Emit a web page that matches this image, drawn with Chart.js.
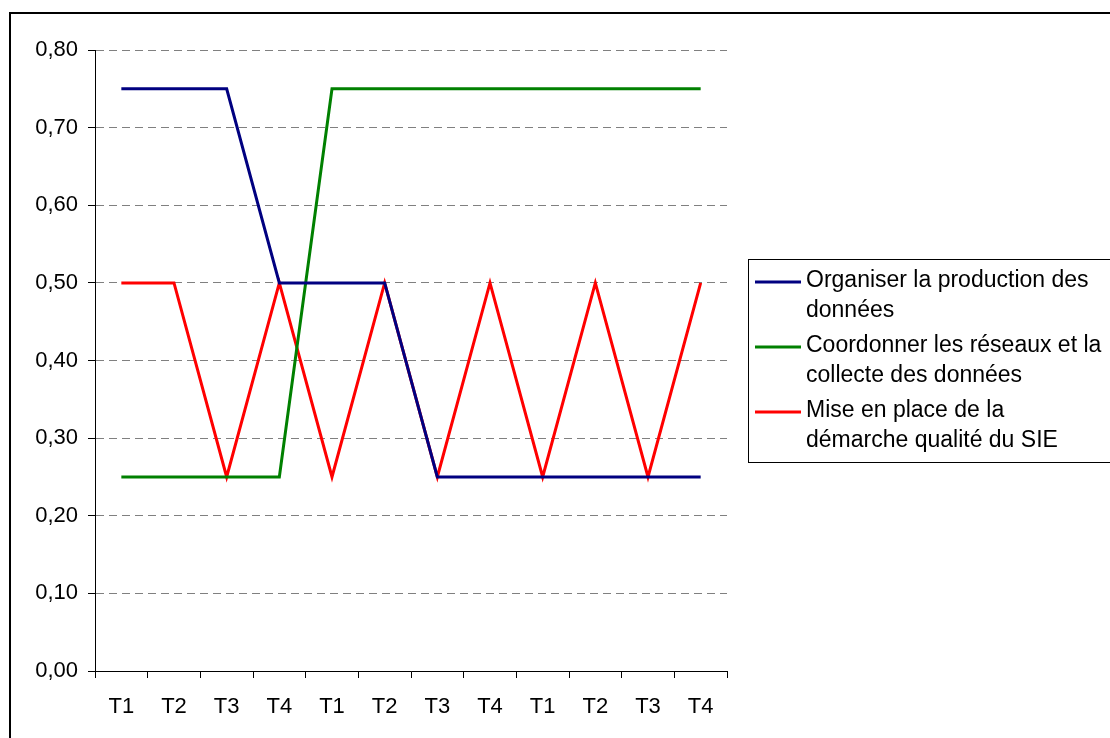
<!DOCTYPE html>
<html>
<head>
<meta charset="utf-8">
<script src="https://cdn.jsdelivr.net/npm/chart.js@4.4.1/dist/chart.umd.min.js"></script>
<style>
  html, body { margin: 0; padding: 0; background: #fff; }
  #wrap { position: relative; width: 1110px; height: 738px; }
</style>
</head>
<body>
<div id="wrap"><canvas id="chart"></canvas></div>
<script>
// quarters, three years in a row
const quarters = ['T1', 'T2', 'T3', 'T4', 'T1', 'T2', 'T3', 'T4', 'T1', 'T2', 'T3', 'T4'];

const organiser = [0.75, 0.75, 0.75, 0.50, 0.50, 0.50, 0.25, 0.25, 0.25, 0.25, 0.25, 0.25];
const coordonner = [0.25, 0.25, 0.25, 0.25, 0.75, 0.75, 0.75, 0.75, 0.75, 0.75, 0.75, 0.75];
const qualite = [0.50, 0.50, 0.25, 0.50, 0.25, 0.50, 0.25, 0.50, 0.25, 0.50, 0.25, 0.50];

const seriesNames = [
  'Organiser la production des\ndonnées',
  'Coordonner les réseaux et la\ncollecte des données',
  'Mise en place de la\ndémarche qualité du SIE'
];
const seriesColors = ['#000080', '#008000', '#ff0000'];

const FONT = '"Liberation Sans", Arial, sans-serif';
const AXIS_FS = 22;
const LEGEND_FS = 23;

// outer frame + legend box drawn on the canvas
const framePlugin = {
  id: 'frame',
  afterDraw(chart) {
    const ctx = chart.ctx;
    ctx.save();
    ctx.strokeStyle = '#000';
    ctx.lineWidth = 2;
    ctx.strokeRect(10, 13, 1120, 740);

    // legend
    ctx.lineWidth = 1;
    ctx.strokeRect(748.5, 259.5, 380, 203);
    ctx.font = LEGEND_FS + 'px ' + FONT;
    ctx.textBaseline = 'middle';
    ctx.textAlign = 'left';
    chart.data.datasets.forEach((ds, i) => {
      const y = 282 + i * 65;
      ctx.strokeStyle = ds.borderColor;
      ctx.lineWidth = 3;
      ctx.beginPath();
      ctx.moveTo(755, y);
      ctx.lineTo(801, y);
      ctx.stroke();
      ctx.fillStyle = '#000';
      ds.label.split('\n').forEach((line, j) => {
        ctx.fillText(line, 806, y - 1 + j * 30);
      });
    });
    ctx.restore();
  }
};

new Chart(document.getElementById('chart'), {
  type: 'line',
  data: {
    labels: quarters,
    datasets: [organiser, coordonner, qualite].map((d, i) => ({
      label: seriesNames[i],
      data: d,
      borderColor: seriesColors[i],
      backgroundColor: seriesColors[i],
      borderWidth: 3,
      pointRadius: 0,
      tension: 0,
      fill: false
    }))
  },
  options: {
    responsive: true,
    maintainAspectRatio: false,
    animation: false,
    layout: { padding: { top: 50, right: 383, left: 0, bottom: 0 } },
    plugins: {
      legend: { display: false },
      tooltip: { enabled: false }
    },
    scales: {
      x: {
        offset: true,
        afterFit: s => { s.height = 67; },
        grid: {
          offset: true,
          drawOnChartArea: false,
          drawTicks: true,
          tickLength: 7,
          tickColor: '#000'
        },
        border: { color: '#000', width: 1 },
        ticks: {
          color: '#000',
          font: { family: FONT, size: AXIS_FS },
          padding: 16,
          maxRotation: 0,
          autoSkip: false
        }
      },
      y: {
        min: 0,
        max: 0.8,
        afterFit: s => { s.width = 95; },
        grid: {
          color: '#808080',
          tickColor: '#000',
          tickBorderDash: [],
          tickLength: 7
        },
        border: { color: '#000', width: 1, dash: [8, 5] },
        ticks: {
          stepSize: 0.1,
          color: '#000',
          font: { family: FONT, size: AXIS_FS },
          padding: 10,
          callback: v => v.toFixed(2).replace('.', ',')
        }
      }
    }
  },
  plugins: [framePlugin]
});
</script>
</body>
</html>
